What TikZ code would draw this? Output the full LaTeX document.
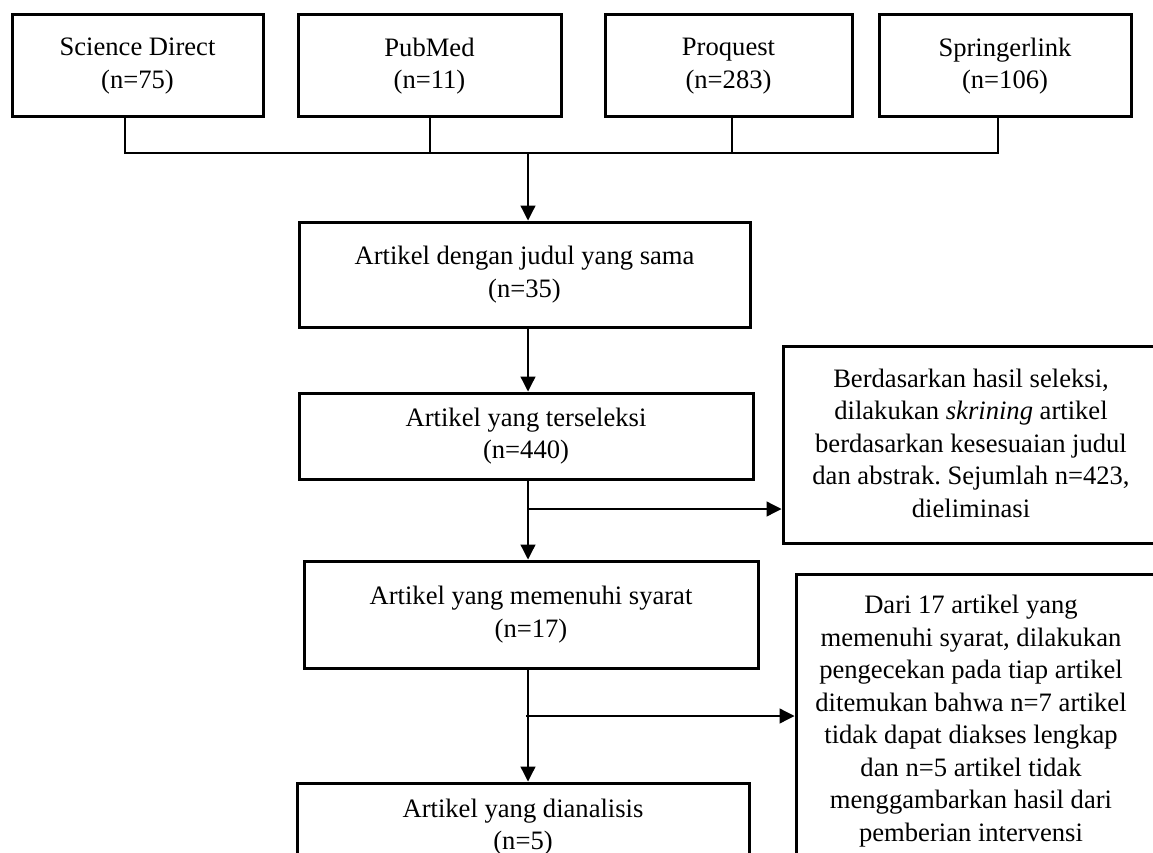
\documentclass[tikz,border=0pt]{standalone}
\usepackage{fontspec}
\setmainfont{Liberation Serif}
\usetikzlibrary{arrows.meta}
\newcommand\myfs{\fontsize{26.6}{32.5}\selectfont\frenchspacing}
\begin{document}
\begin{tikzpicture}[x=1pt,y=-1pt,
  box/.style={draw, line width=3pt, align=center, inner sep=0pt, font=\myfs},
  txt/.style={align=center, inner sep=0pt, font=\myfs},
  conn/.style={line width=1.3pt},
  arr/.style={line width=1.3pt, -{Triangle[width=15pt,length=15pt]}}]
\useasboundingbox (0,0) rectangle (1153,853);
\fill[white] (0,0) rectangle (1153,853);
\clip (0,0) rectangle (1153,853);

% top sources
\node[box, minimum width=251pt, minimum height=102pt] (sd) at (137.5,66) {Science Direct\\(n=75)};
\node[box, minimum width=263pt, minimum height=102pt] (pm) at (429.5,66) {PubMed\\(n=11)};
\node[box, minimum width=247pt, minimum height=102pt] (pq) at (728.5,66) {Proquest\\(n=283)};
\node[box, minimum width=252pt, minimum height=102pt] (sl) at (1005,66) {Springerlink\\(n=106)};

% main column
\node[box, minimum width=451pt, minimum height=105pt] (b1) at (524.5,274.5) {Artikel dengan judul yang sama\\(n=35)};
\node[box, minimum width=454pt, minimum height=86pt] (b2) at (526,436) {Artikel yang terseleksi\\(n=440)};
\node[box, minimum width=454pt, minimum height=107pt] (b3) at (531,614.5) {Artikel yang memenuhi syarat\\(n=17)};
\node[box, minimum width=452pt, minimum height=88pt] (b4) at (523,827) {Artikel yang dianalisis\\(n=5)};

% side boxes
\node[box, minimum width=392pt, minimum height=197pt] (r1) at (979,444.5) {};
\node[txt] (r1t) at (971,443) {Berdasarkan hasil seleksi,\\dilakukan \textit{skrining} artikel\\berdasarkan kesesuaian judul\\dan abstrak. Sejumlah n=423,\\dieliminasi};
\node[box, minimum width=379pt, minimum height=326pt] (r2) at (985.5,737) {};
\node[txt] (r2t) at (971,721) {Dari 17 artikel yang\\memenuhi syarat, dilakukan\\pengecekan pada tiap artikel\\ditemukan bahwa n=7 artikel\\tidak dapat diakses lengkap\\dan n=5 artikel tidak\\menggambarkan hasil dari\\pemberian intervensi};

% bus
\coordinate (jsd) at (125,153);
\coordinate (jpm) at (430,153);
\coordinate (jpq) at (732,153);
\coordinate (jsl) at (998,153);
\coordinate (jm) at (528,153);
\draw[conn] (jsd |- sd.south) -- (jsd) -- (jsl) -- (jsl |- sl.south);
\draw[conn] (jpm |- pm.south) -- (jpm);
\draw[conn] (jpq |- pq.south) -- (jpq);

% main arrows
\draw[arr] (jm) -- (jm |- b1.north);
\draw[arr] (jm |- b1.south) -- (jm |- b2.north);
\draw[arr] (jm |- b2.south) -- (jm |- b3.north);
\draw[arr] (jm |- b3.south) -- (jm |- b4.north);

% branches
\coordinate (br1) at (528,509);
\coordinate (br2) at (526,716);
\draw[arr] (br1) -- (br1 -| r1.west);
\draw[arr] (br2) -- (br2 -| r2.west);
\end{tikzpicture}
\end{document}
